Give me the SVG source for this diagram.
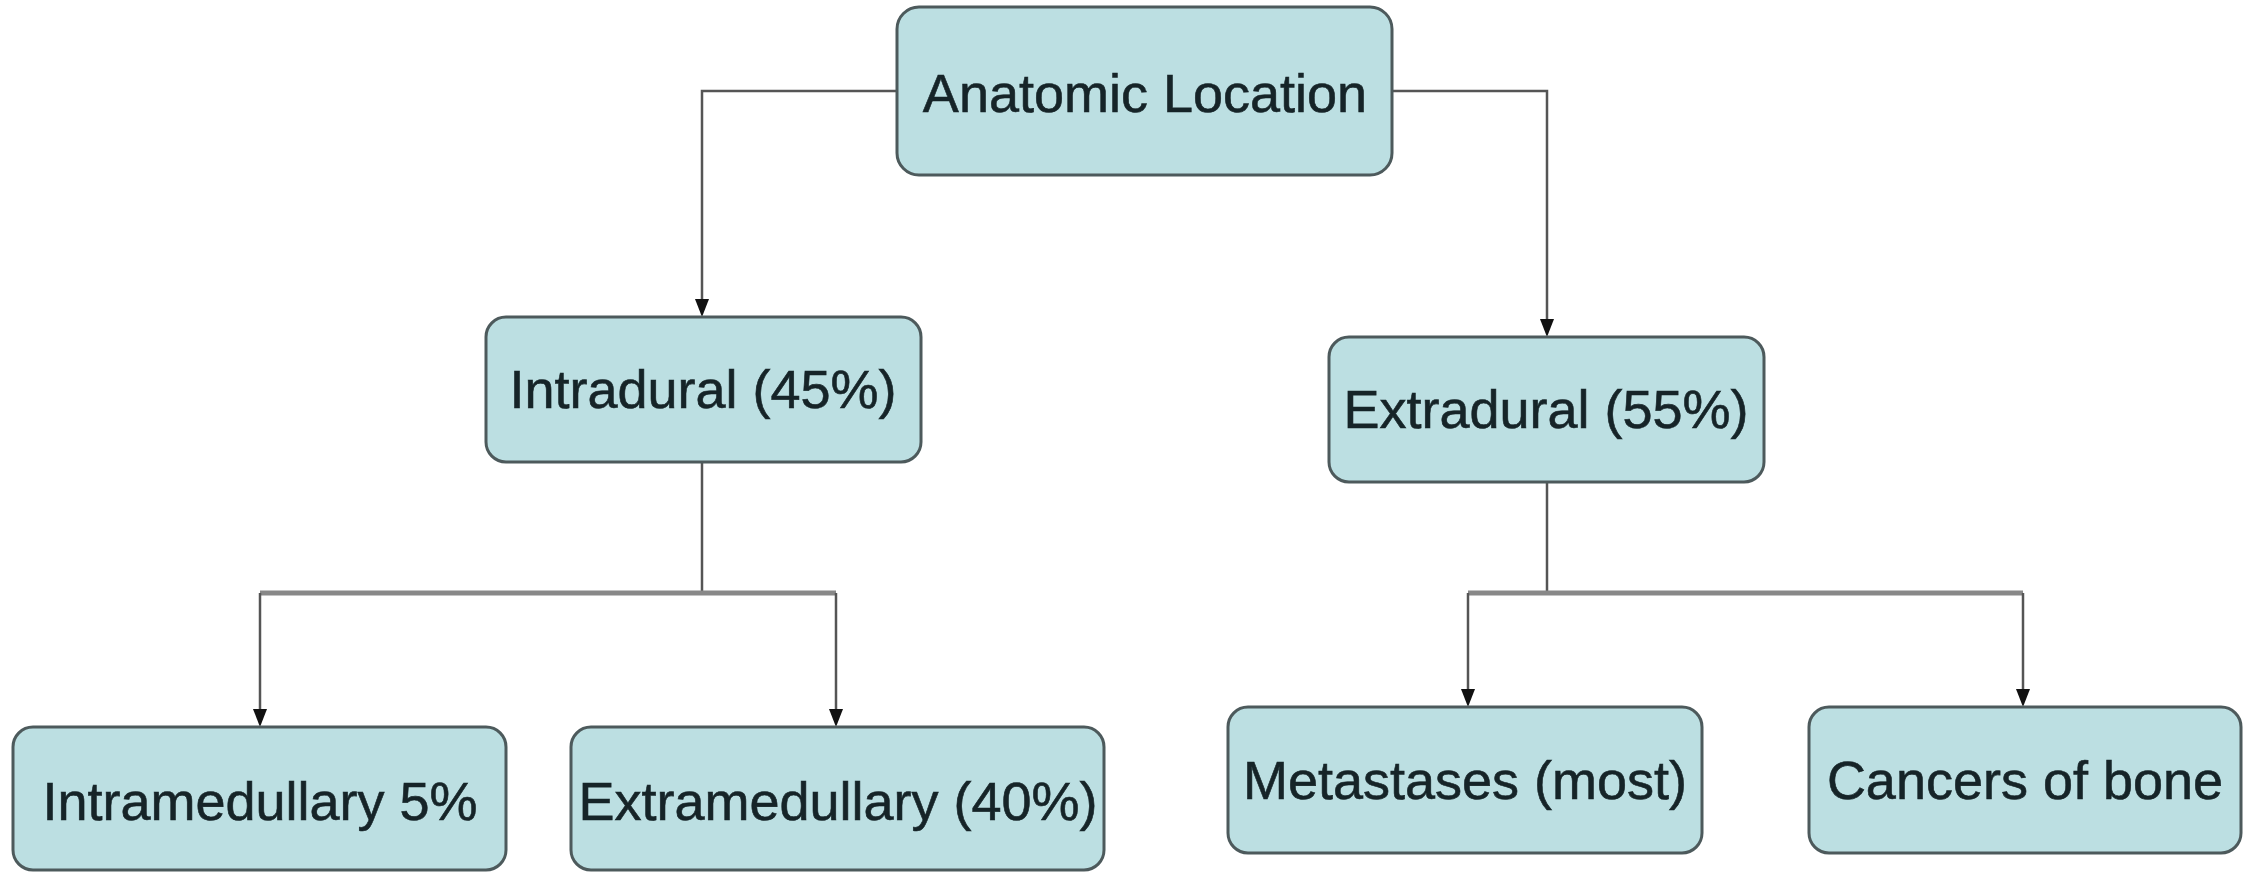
<svg xmlns="http://www.w3.org/2000/svg" width="2244" height="872" viewBox="0 0 2244 872">
  <style>
    .box { fill: #bcdfe2; stroke: #4d5a5c; stroke-width: 3; }
    .lbl { font-family: "Liberation Sans", Arial, sans-serif; font-size: 54px; fill: #162428; stroke: #162428; stroke-width: 0.6; text-anchor: middle; }
    .conn { fill: none; stroke: #555; stroke-width: 2.5; }
    .bar { fill: none; stroke: #888; stroke-width: 5; }
    .head { fill: #111; }
  </style>
  <rect width="2244" height="872" fill="#fff"/>

  <g id="connectors">
    <path class="conn" d="M897 91 H702 V300"/>
    <path class="conn" d="M1392 91 H1547 V320"/>
    <path class="conn" d="M702 462 V593"/>
    <path class="bar" d="M260 593 H836"/>
    <path class="conn" d="M260 593 V710"/>
    <path class="conn" d="M836 593 V710"/>
    <path class="conn" d="M1547 482 V593"/>
    <path class="bar" d="M1468 593 H2023"/>
    <path class="conn" d="M1468 593 V690"/>
    <path class="conn" d="M2023 593 V690"/>
    <path class="head" d="M695 299 L709 299 L702 317 Z"/>
    <path class="head" d="M1540 319 L1554 319 L1547 337 Z"/>
    <path class="head" d="M253 709 L267 709 L260 727 Z"/>
    <path class="head" d="M829 709 L843 709 L836 727 Z"/>
    <path class="head" d="M1461 689 L1475 689 L1468 707 Z"/>
    <path class="head" d="M2016 689 L2030 689 L2023 707 Z"/>
  </g>

  <g id="node-anatomic">
    <rect class="box" x="897" y="7" width="495" height="168" rx="22"/>
    <text class="lbl" x="1145" y="112">Anatomic Location</text>
  </g>
  <g id="node-intradural">
    <rect class="box" x="486" y="317" width="435" height="145" rx="20"/>
    <text class="lbl" x="703" y="408">Intradural (45%)</text>
  </g>
  <g id="node-extradural">
    <rect class="box" x="1329" y="337" width="435" height="145" rx="20"/>
    <text class="lbl" x="1546" y="428">Extradural (55%)</text>
  </g>
  <g id="node-intramedullary">
    <rect class="box" x="13" y="727" width="493" height="143" rx="20"/>
    <text class="lbl" x="260" y="820">Intramedullary 5%</text>
  </g>
  <g id="node-extramedullary">
    <rect class="box" x="571" y="727" width="533" height="143" rx="20"/>
    <text class="lbl" x="838" y="820">Extramedullary (40%)</text>
  </g>
  <g id="node-metastases">
    <rect class="box" x="1228" y="707" width="474" height="146" rx="20"/>
    <text class="lbl" x="1465" y="799">Metastases (most)</text>
  </g>
  <g id="node-cancers">
    <rect class="box" x="1809" y="707" width="432" height="146" rx="20"/>
    <text class="lbl" x="2025" y="799">Cancers of bone</text>
  </g>
</svg>
